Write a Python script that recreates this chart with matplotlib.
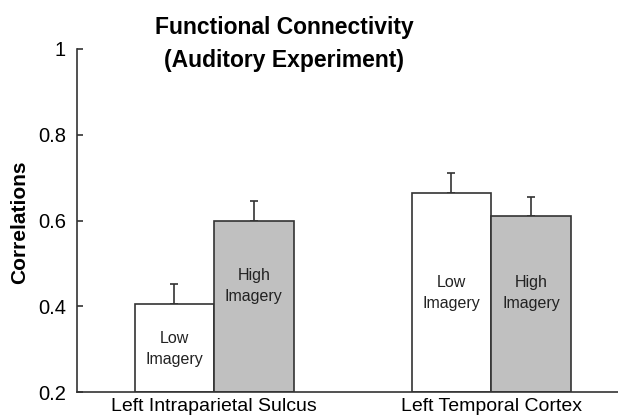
"""Functional connectivity bar chart (auditory experiment)."""

import matplotlib

matplotlib.use("Agg")
import matplotlib.pyplot as plt
import numpy as np

regions = ["Left Intraparietal Sulcus", "Left Temporal Cortex"]
conditions = ["Low\nImagery", "High\nImagery"]
low_means = [0.406, 0.665]
low_errs = [0.045, 0.046]
high_means = [0.600, 0.610]
high_errs = [0.045, 0.045]
label_heights = {"Low\nImagery": [0.300, 0.431], "High\nImagery": [0.447, 0.431]}
yticks = [0.2, 0.4, 0.6, 0.8, 1.0]
ytick_labels = ["0.2", "0.4", "0.6", "0.8", "1"]

plt.rcParams["font.family"] = ["Liberation Sans", "DejaVu Sans"]
edge = "#333333"

fig = plt.figure(figsize=(6.18, 4.19), dpi=100)
ax = fig.add_axes([77 / 618, 27 / 419, 541 / 618, 343 / 419])

x = np.arange(1, len(regions) + 1)
w = 0.287
series = [
    (conditions[0], low_means, low_errs, -w / 2, "white"),
    (conditions[1], high_means, high_errs, w / 2, "#c0c0c0"),
]
for name, means, errs, offset, color in series:
    ax.bar(x + offset, np.array(means) - 0.2, width=w, bottom=0.2, color=color,
           edgecolor=edge, linewidth=1.2, zorder=2)
    ax.errorbar(x + offset, means, yerr=[np.zeros(len(errs)), errs], fmt="none",
                ecolor=edge, elinewidth=1.2, capsize=2.9, capthick=1.2, zorder=1)
    for xi, yi in zip(x + offset, label_heights[name]):
        ax.text(xi, yi, name, ha="center", va="center", fontsize=11.5,
                color="#222222", linespacing=1.45, zorder=3)

ax.set_xlim(0.505, 2.458)
ax.set_ylim(0.2, 1.0)
ax.set_yticks(yticks)
ax.set_yticklabels(ytick_labels)
ax.set_xticks(x)
ax.set_xticklabels(regions)
ax.tick_params(axis="y", direction="in", length=4, width=1.2, color=edge,
               labelsize=14.5, pad=8)
ax.tick_params(axis="x", length=0, labelsize=14, pad=4)
for side in ["top", "right"]:
    ax.spines[side].set_visible(False)
for side in ["left", "bottom"]:
    ax.spines[side].set_color(edge)
    ax.spines[side].set_linewidth(1.2)

fig.text(20 / 618, 1 - 222 / 419, "Correlations", rotation=90, ha="center",
         va="center", fontsize=15, fontweight="bold")
fig.text(284 / 618, 1 - 44 / 419, "Functional Connectivity\n(Auditory Experiment)",
         ha="center", va="center", fontsize=16.5, fontweight="bold", linespacing=1.6)

fig.savefig("out.png", dpi=100)
